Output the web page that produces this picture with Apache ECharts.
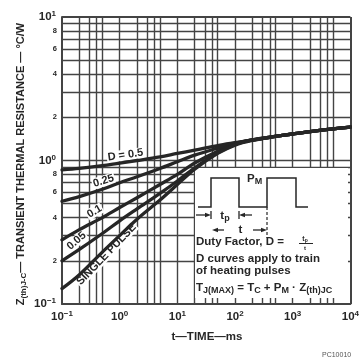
<!DOCTYPE html>
<html>
<head>
<meta charset="utf-8">
<script src="https://cdn.jsdelivr.net/npm/echarts@6/dist/echarts.min.js"></script>
<style>
  html, body { margin: 0; padding: 0; background: #fff; }
  #c { width: 362px; height: 360px; }
</style>
</head>
<body>
<div id="c"></div>
<script>
// Pulse width t (ms)
const timeMs = [0.1, 0.2, 0.5, 1, 2, 5, 10, 20, 50, 100, 200, 500, 1000, 2000, 5000, 10000];
// Transient thermal resistance Z(th)J-C (°C/W) per duty factor
const zD050   = [0.86, 0.88, 0.92, 0.96, 1.00, 1.06, 1.12, 1.18, 1.27, 1.33, 1.39, 1.47, 1.53, 1.59, 1.66, 1.71];
const zD025   = [0.52, 0.56, 0.63, 0.70, 0.77, 0.88, 0.98, 1.09, 1.22, 1.32, 1.39, 1.47, 1.53, 1.59, 1.66, 1.71];
const zD010   = [0.28, 0.33, 0.40, 0.47, 0.55, 0.68, 0.80, 0.96, 1.16, 1.30, 1.39, 1.47, 1.53, 1.59, 1.66, 1.71];
const zD005   = [0.20, 0.24, 0.31, 0.38, 0.46, 0.59, 0.72, 0.89, 1.13, 1.29, 1.39, 1.47, 1.53, 1.59, 1.66, 1.71];
const zSingle = [0.128, 0.16, 0.23, 0.30, 0.39, 0.53, 0.68, 0.87, 1.12, 1.28, 1.38, 1.47, 1.53, 1.59, 1.66, 1.71];

// Log-paper grid lines
const gridX = [0.1, 0.2, 0.3, 0.4, 0.5, 1, 2, 3, 4, 5, 10, 20, 30, 40, 50, 100, 200, 300, 400, 500,
               1000, 2000, 3000, 4000, 5000, 10000];
const gridY = [0.1, 0.2, 0.3, 0.4, 0.5, 0.6, 0.7, 0.8, 0.9, 1, 2, 3, 4, 5, 6, 7, 8, 9, 10];
// Intermediate tick labels on the Z axis
const minorYLabels = { 0.2: '2', 0.4: '4', 0.6: '6', 0.8: '8', 2: '2', 4: '4', 6: '6', 8: '8' };

const FONT = '"Liberation Sans", Arial, Helvetica, sans-serif';
const INK = '#262626';
const GRID = '#444';

function pow10Label(v) {
  const e = Math.round(Math.log10(v));
  return '{b|10}{s|' + (e < 0 ? '\u2212' + (-e) : e) + '}';
}
const powRich = {
  b: { fontSize: 11.5, fontWeight: 'bold', fontFamily: FONT, color: INK, lineHeight: 14 },
  s: { fontSize: 8, fontWeight: 'bold', fontFamily: FONT, color: INK, lineHeight: 9, verticalAlign: 'top' }
};

const gridLineData = [];
gridX.forEach(v => {
  const edge = (v === 0.1 || v === 10000);
  gridLineData.push({ xAxis: v, lineStyle: { width: edge ? 2 : 1.4, color: GRID, type: 'solid' } });
});
gridY.forEach(v => {
  const edge = (v === 0.1 || v === 10);
  const item = { yAxis: v, lineStyle: { width: edge ? 2 : 1.4, color: GRID, type: 'solid' } };
  if (minorYLabels[v]) {
    item.label = { show: true, position: 'start', distance: 5, formatter: minorYLabels[v],
                   fontSize: 7.5, fontWeight: 'bold', fontFamily: FONT, color: INK };
  }
  gridLineData.push(item);
});

function curve(values) {
  return {
    type: 'line',
    data: timeMs.map((t, i) => [t, values[i]]),
    smooth: 0.35,
    symbol: 'none',
    silent: true,
    animation: false,
    z: 20,
    lineStyle: { color: INK, width: 3.3, cap: 'round', join: 'round' }
  };
}

const B11 = 'bold 11px ' + FONT;
const BI = 'bold 11.5px ' + FONT;
const sub = { fontSize: 9, fontWeight: 'bold', fontFamily: FONT, fill: INK, lineHeight: 9, verticalAlign: 'bottom' };
const main = { fontSize: 11.5, fontWeight: 'bold', fontFamily: FONT, fill: INK, lineHeight: 14 };
const ZP = 15;   // panel and caption layer: above grid, below curves

function curveLabel(text, x, y, deg) {
  return {
    type: 'text', x: x, y: y, rotation: deg * Math.PI / 180, z: ZP, silent: true,
    style: { text: text, font: B11, fill: INK, align: 'center', verticalAlign: 'middle',
             backgroundColor: '#fff', padding: [0, 1] }
  };
}
function arrowHead(x, y, dir) {
  // small filled triangle pointing left (dir=-1) or right (dir=1)
  return {
    type: 'polygon', z: ZP + 1, silent: true,
    shape: { points: [[x, y], [x - dir * 6, y - 2.2], [x - dir * 6, y + 2.2]] },
    style: { fill: INK }
  };
}
function seg(x1, y1, x2, y2, w, dash) {
  return {
    type: 'line', z: ZP + 1, silent: true,
    shape: { x1: x1, y1: y1, x2: x2, y2: y2 },
    style: { stroke: INK, lineWidth: w || 1.3, lineDash: dash || null }
  };
}
function txt(x, y, style) {
  return { type: 'text', z: ZP + 1, x: x, y: y, silent: true, style: style };
}

const chart = echarts.init(document.getElementById('c'), null, { renderer: 'canvas' });
chart.setOption({
  animation: false,
  backgroundColor: '#fff',
  grid: { left: 62, top: 17, right: 9, bottom: 56, containLabel: false },
  xAxis: {
    type: 'log', logBase: 10, min: 0.1, max: 10000,
    axisLine: { show: true, lineStyle: { color: GRID, width: 2 } },
    axisTick: { show: false },
    splitLine: { show: false },
    axisLabel: { margin: 6, formatter: pow10Label, rich: powRich }
  },
  yAxis: {
    type: 'log', logBase: 10, min: 0.1, max: 10,
    axisLine: { show: true, lineStyle: { color: GRID, width: 2 } },
    axisTick: { show: false },
    splitLine: { show: false },
    axisLabel: { margin: 6, formatter: pow10Label, rich: powRich }
  },
  series: [
    {
      type: 'line', data: [], z: 1, silent: true, animation: false,
      markLine: { z: 1, symbol: ['none', 'none'], silent: true, animation: false,
                  label: { show: false }, data: gridLineData }
    },
    curve(zD050), curve(zD025), curve(zD010), curve(zD005), curve(zSingle)
  ],
  graphic: { elements: [
    // vertical axis title
    { type: 'text', x: 21, y: 164, rotation: Math.PI / 2, silent: true,
      style: { text: '{m|Z}{s|(th)J-C}{m|\u2014 TRANSIENT THERMAL RESISTANCE \u2014 \u00b0C/W}',
               align: 'center', verticalAlign: 'middle',
               rich: { m: { fontSize: 11, fontWeight: 'bold', fontFamily: FONT, fill: INK, lineHeight: 14 },
                       s: { fontSize: 8, fontWeight: 'bold', fontFamily: FONT, fill: INK, lineHeight: 9, verticalAlign: 'bottom' } } } },
    // horizontal axis title
    { type: 'text', x: 207, y: 337, silent: true,
      style: { text: 't\u2014TIME\u2014ms', font: 'bold 11.5px ' + FONT, fill: INK, align: 'center', verticalAlign: 'middle' } },
    { type: 'text', x: 322, y: 355, silent: true,
      style: { text: 'PC10010', font: '7px ' + FONT, fill: '#555', align: 'left', verticalAlign: 'middle' } },

    // curve captions
    curveLabel('D = 0.5', 125.5, 155, 8),
    curveLabel('0.25', 103.5, 181, 17),
    curveLabel('0.1', 94.5, 211.5, 30),
    curveLabel('0.05', 76.5, 241, 41),
    curveLabel('SINGLE PULSE', 106.5, 254.5, 46),

    // inset panel
    { type: 'rect', z: ZP, silent: true, shape: { x: 195, y: 168, width: 153, height: 130 }, style: { fill: '#fff' } },
    { type: 'polyline', z: ZP + 1, silent: true,
      shape: { points: [[198, 207], [211, 207], [211, 178], [239, 178], [239, 207], [267, 207],
                        [267, 178], [296, 178], [296, 207], [308, 207]] },
      style: { stroke: INK, lineWidth: 1.5, fill: null } },
    seg(267, 207, 267, 238, 1.2, [3, 2]),
    txt(247, 179, { text: '{m|P}{s|M}', align: 'left', verticalAlign: 'middle', rich: { m: main, s: sub } }),
    // tp dimension
    seg(196, 215, 205, 215), arrowHead(211, 215, 1), seg(211, 211, 211, 219),
    txt(225, 216, { text: '{m|t}{s|p}', align: 'center', verticalAlign: 'middle', rich: { m: main, s: sub } }),
    seg(239, 211, 239, 219), arrowHead(239, 215, -1), seg(245, 215, 252, 215),
    // t dimension
    arrowHead(212, 230, -1), seg(218, 230, 224, 230),
    txt(240.5, 229.5, { text: 't', font: BI, fill: INK, align: 'center', verticalAlign: 'middle' }),
    seg(253, 230, 261, 230), arrowHead(267, 230, 1),
    // duty factor
    txt(196, 242, { text: 'Duty Factor, D =', font: BI, fill: INK, align: 'left', verticalAlign: 'middle' }),
    txt(305, 239.5, { text: '{a|t}{b|p}', align: 'center', verticalAlign: 'middle',
               rich: { a: { fontSize: 7, fontWeight: 'bold', fontFamily: FONT, fill: INK, lineHeight: 8 },
                       b: { fontSize: 5, fontWeight: 'bold', fontFamily: FONT, fill: INK, lineHeight: 6, verticalAlign: 'bottom' } } }),
    seg(299, 243.5, 313, 243.5, 1),
    txt(305, 248, { text: 't', font: 'bold 6px ' + FONT, fill: INK, align: 'center', verticalAlign: 'middle' }),
    txt(196, 259, { text: 'D curves apply to train', font: BI, fill: INK, align: 'left', verticalAlign: 'middle' }),
    txt(196, 270.5, { text: 'of heating pulses', font: BI, fill: INK, align: 'left', verticalAlign: 'middle' }),
    txt(196, 288, { text: '{m|T}{s|J(MAX)}{m| = T}{s|C}{m| + P}{s|M}{m| \u00b7 Z}{s|(th)JC}',
               align: 'left', verticalAlign: 'middle', rich: { m: main, s: sub } })
  ] }
});
</script>
</body>
</html>
